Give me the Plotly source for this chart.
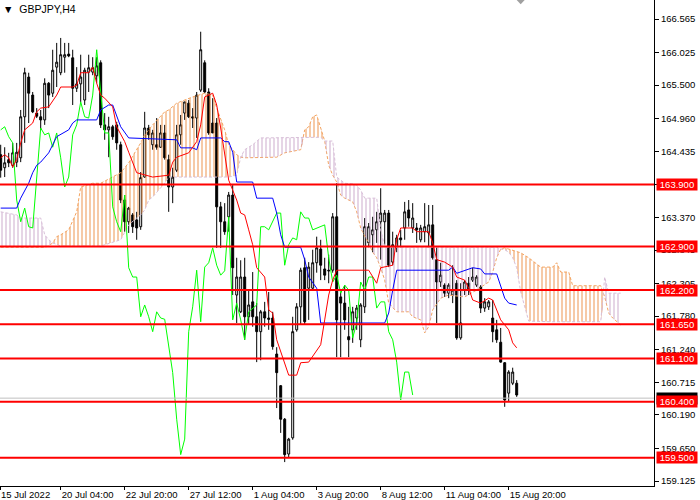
import plotly.graph_objects as go

# GBPJPY H4 candles, index 0 = leftmost bar on screen
opens = [164.38, 164.17, 164.30, 164.21, 164.26, 164.33, 164.99, 165.63, 165.34, 165.05,
         164.99, 164.94, 165.53, 165.37, 165.79, 165.70, 165.95, 166.00, 165.94, 165.45,
         165.52, 165.26, 165.71, 165.71, 165.65, 165.86, 164.86, 164.78, 164.83, 164.86,
         164.54, 163.65, 163.30, 163.41, 163.33, 163.22, 164.02, 164.81, 164.54, 164.54,
         164.50, 164.73, 164.30, 163.86, 164.13, 164.70, 165.05, 165.21, 164.99, 164.97,
         165.42, 165.86, 165.39, 164.89, 164.89, 163.54, 163.30, 163.38, 163.73, 162.12,
         161.85, 162.41, 161.77, 162.01, 161.77, 161.53, 161.85, 161.75, 161.75, 161.17,
         160.66, 160.12, 159.56, 159.82, 161.56, 161.93, 162.56, 162.23, 162.23, 162.64,
         162.86, 162.54, 162.52, 162.52, 163.38, 162.09, 161.99, 161.45, 161.56, 161.75,
         161.40, 161.93, 162.96, 163.09, 163.17, 163.30, 163.30, 163.44, 162.65, 162.89,
         163.04, 163.20, 163.49, 163.20, 163.20, 163.01, 163.14, 163.12, 163.25, 162.69,
         162.33, 162.28, 162.15, 162.12, 162.31, 161.43, 162.20, 162.31, 162.36, 162.28,
         162.25, 161.91, 161.93, 161.75, 161.56, 161.36, 161.03, 160.54, 160.70, 160.70]
highs = [164.54, 164.50, 164.41, 164.57, 164.57, 165.10, 165.78, 165.70, 165.39, 165.13,
         165.10, 165.61, 165.55, 166.07, 166.18, 166.26, 166.18, 166.18, 166.07, 165.79,
         165.99, 165.78, 165.99, 165.95, 165.95, 165.90, 165.05, 164.99, 164.86, 164.91,
         164.59, 163.73, 163.54, 163.44, 163.46, 164.10, 165.07, 164.86, 164.78, 164.97,
         164.86, 164.86, 164.38, 164.17, 164.86, 165.02, 165.23, 165.26, 165.13, 165.39,
         166.36, 165.90, 165.45, 165.29, 164.97, 163.62, 163.60, 163.78, 163.89, 162.72,
         162.68, 162.72, 162.20, 162.49, 161.99, 161.88, 162.01, 162.17, 161.85, 161.28,
         160.67, 160.14, 159.82, 161.77, 161.99, 162.56, 162.72, 162.65, 162.85, 163.06,
         163.01, 162.72, 162.77, 163.44, 163.92, 162.17, 162.28, 161.93, 161.93, 161.96,
         161.99, 163.36, 163.28, 163.38, 163.46, 163.84, 163.49, 163.49, 163.14, 163.09,
         163.17, 163.62, 163.65, 163.60, 163.28, 163.25, 163.60, 163.57, 163.57, 162.89,
         162.64, 162.31, 162.31, 162.60, 162.36, 162.31, 162.36, 162.41, 162.56, 162.44,
         162.28, 162.07, 162.04, 162.04, 161.72, 161.59, 161.04, 160.91, 160.95, 160.75]
lows = [164.01, 164.02, 164.18, 164.17, 164.18, 164.26, 164.57, 164.89, 165.05, 164.97,
        164.78, 164.86, 165.13, 165.31, 165.47, 165.66, 165.70, 165.95, 165.18, 165.39,
        165.23, 165.18, 165.39, 165.66, 165.53, 164.81, 164.62, 164.34, 164.62, 164.46,
        163.60, 163.14, 163.12, 163.12, 163.01, 163.17, 164.01, 164.62, 164.46, 164.46,
        164.49, 164.30, 163.46, 163.60, 164.10, 164.54, 164.94, 164.97, 164.81, 164.65,
        165.39, 165.37, 164.70, 164.75, 162.88, 162.88, 163.09, 163.14, 162.12, 161.67,
        161.83, 161.40, 161.64, 161.61, 161.04, 161.07, 161.61, 161.56, 161.24, 160.30,
        159.90, 159.43, 159.51, 159.79, 161.53, 161.64, 161.64, 161.72, 162.20, 162.48,
        162.36, 162.36, 162.31, 162.48, 161.12, 161.12, 161.56, 161.12, 161.35, 161.56,
        161.28, 161.83, 162.89, 162.81, 162.96, 162.69, 162.93, 162.57, 162.60, 162.81,
        162.89, 163.01, 163.22, 163.12, 162.96, 162.97, 162.97, 162.89, 162.69, 161.67,
        162.25, 162.09, 162.07, 161.99, 161.40, 161.40, 162.12, 162.12, 162.33, 162.25,
        161.83, 161.85, 161.88, 161.36, 161.35, 161.03, 160.32, 160.40, 160.67, 160.48]
closes = [164.13, 164.25, 164.25, 164.41, 164.42, 164.99, 165.70, 165.37, 165.07, 165.00,
          164.94, 165.53, 165.34, 165.74, 165.87, 165.99, 165.99, 165.97, 165.45, 165.52,
          165.63, 165.74, 165.78, 165.78, 165.81, 164.86, 164.78, 164.83, 164.67, 164.57,
          163.65, 163.30, 163.52, 163.22, 163.20, 164.01, 164.81, 164.70, 164.73, 164.50,
          164.73, 164.33, 163.86, 164.02, 164.70, 164.86, 165.23, 164.99, 164.97, 165.34,
          166.07, 165.39, 164.73, 164.73, 163.54, 163.30, 163.14, 163.73, 162.56, 162.41,
          162.41, 161.77, 161.96, 161.77, 161.53, 161.85, 161.75, 161.73, 161.29, 160.87,
          160.12, 159.55, 159.80, 161.53, 161.93, 162.52, 161.69, 162.57, 162.64, 162.88,
          162.60, 162.44, 162.51, 163.38, 161.72, 161.99, 161.72, 161.40, 161.85, 161.91,
          161.96, 163.22, 163.22, 163.17, 163.30, 163.44, 163.44, 162.60, 162.93, 163.04,
          163.01, 163.46, 163.36, 163.36, 163.17, 163.20, 163.22, 163.25, 162.72, 162.33,
          162.44, 162.15, 162.28, 162.20, 161.43, 161.67, 162.33, 162.20, 162.41, 162.41,
          161.91, 162.01, 162.01, 161.53, 161.40, 161.04, 160.43, 160.88, 160.88, 160.51]
bars = list(range(len(closes)))

# Ichimoku lines (bar index, price)
tenkan_idx = [0, 1, 2, 3, 4, 5, 6, 8, 9, 10, 12, 14, 15, 18, 19, 20, 22, 23, 24, 25, 26, 28, 29,
              31, 32, 33, 34, 38, 42, 43, 44, 47, 49, 50, 51, 53, 54, 55, 56, 57, 58, 59, 60, 61,
              62, 63, 64, 65, 66, 67, 68, 69, 70, 71, 72, 74, 75, 77, 79, 80, 81, 82, 83, 84, 92,
              94, 95, 98, 99, 100, 103, 104, 107, 108, 109, 111, 113, 114, 116, 117, 118, 120,
              122, 123, 125, 127, 128, 129]
tenkan = [164.33, 164.38, 164.33, 164.18, 164.30, 164.57, 164.78, 164.89, 165.07, 165.13, 165.15,
          165.34, 165.47, 165.47, 165.50, 165.70, 165.70, 165.79, 165.53, 165.34, 165.29, 165.15,
          164.83, 164.59, 164.42, 164.26, 164.09, 164.02, 164.05, 164.26, 164.34, 164.41, 164.59,
          164.86, 165.31, 165.37, 165.18, 164.81, 164.38, 163.97, 163.81, 163.65, 163.44, 163.41,
          163.17, 162.93, 162.56, 162.48, 162.41, 161.88, 161.83, 161.40, 161.20, 161.03, 160.83,
          160.83, 161.03, 161.04, 161.24, 161.32, 161.72, 162.12, 162.36, 162.52, 162.52, 162.31,
          162.56, 162.60, 163.01, 163.20, 163.20, 163.14, 163.14, 162.96, 162.69, 162.65, 162.57,
          162.41, 162.36, 162.23, 162.04, 161.99, 162.07, 162.04, 161.72, 161.56, 161.35, 161.27]

kijun_idx = [0, 4, 5, 7, 8, 9, 10, 12, 13, 14, 17, 18, 19, 24, 25, 27, 28, 29, 30, 32, 44, 45, 48,
             49, 50, 55, 56, 57, 58, 59, 63, 64, 68, 69, 70, 71, 75, 76, 77, 79, 80, 96, 97, 98,
             99, 112, 113, 114, 118, 120, 121, 124, 126, 127, 129]
kijun = [163.52, 163.52, 163.68, 163.92, 164.09, 164.21, 164.26, 164.41, 164.54, 164.67, 164.78,
         164.89, 164.94, 164.94, 165.10, 165.18, 165.18, 164.99, 164.83, 164.65, 164.62, 164.49,
         164.49, 164.46, 164.65, 164.65, 164.59, 164.59, 164.42, 163.94, 163.94, 163.68, 163.68,
         163.44, 163.09, 162.89, 162.89, 162.69, 162.41, 162.23, 161.67, 161.67, 161.83, 162.20,
         162.52, 162.52, 162.57, 162.47, 162.56, 162.54, 162.46, 162.46, 162.07, 161.99, 161.96]

# Kumo (senkou spans, already shifted 26 bars ahead)
cloud_idx = [0, 4, 5, 10, 11, 12, 13, 14, 15, 17, 19, 20, 23, 25, 30, 32, 34, 35, 36, 37, 38, 40,
             41, 42, 44, 48, 51, 53, 54, 56, 57, 59, 60, 61, 63, 65, 69, 71, 74, 75, 76, 77, 78,
             79, 80, 81, 82, 83, 84, 85, 86, 88, 89, 90, 91, 92, 93, 94, 95, 96, 97, 99, 102,
             103, 105, 106, 107, 108, 110, 112, 116, 119, 122, 123, 124, 125, 126, 127, 128, 129,
             130, 132, 135, 138, 139, 140, 142, 143, 150, 151, 152, 153, 155]
span_a = [162.89, 162.89, 162.89, 162.89, 162.89, 162.91, 162.96, 163.06, 163.09, 163.17, 163.46,
          163.86, 163.92, 163.92, 164.09, 164.25, 164.46, 164.57, 164.70, 164.78, 164.86, 165.00,
          165.07, 165.10, 165.21, 165.31, 165.37, 165.34, 165.13, 164.78, 164.54, 164.38, 164.34,
          164.33, 164.33, 164.33, 164.34, 164.41, 164.44, 164.46, 164.78, 164.83, 164.99, 165.02,
          164.81, 164.60, 164.21, 164.05, 163.94, 163.73, 163.68, 163.62, 163.46, 163.20, 163.07,
          162.96, 162.81, 162.72, 162.56, 162.36, 161.99, 161.85, 161.85, 161.77, 161.72, 161.51,
          161.61, 161.88, 162.07, 162.12, 162.09, 162.20, 162.33, 162.49, 162.72, 162.86, 162.88,
          162.86, 162.85, 162.83, 162.80, 162.72, 162.57, 162.57, 162.64, 162.49, 162.49, 162.27,
          162.27, 162.09, 161.83, 161.75, 161.64]
span_b = [163.46, 163.41, 163.36, 163.36, 163.09, 163.01, 162.96, 162.93, 162.91, 162.91, 162.91,
          162.91, 162.91, 162.91, 163.01, 163.25, 163.36, 163.41, 163.49, 163.65, 163.70, 163.84,
          163.92, 164.02, 164.02, 164.02, 164.02, 164.02, 164.02, 164.02, 164.02, 164.05, 164.34,
          164.46, 164.54, 164.65, 164.65, 164.65, 164.65, 164.65, 164.66, 164.66, 164.66, 164.66,
          164.66, 164.60, 164.60, 164.60, 164.02, 163.97, 163.92, 163.91, 163.89, 163.81, 163.68,
          163.68, 163.68, 163.68, 163.17, 162.89, 162.89, 162.89, 162.89, 162.89, 162.89, 162.89,
          162.89, 162.89, 162.89, 162.89, 162.89, 162.89, 162.89, 162.89, 162.89, 162.86, 162.85,
          162.81, 162.72, 162.56, 162.17, 161.70, 161.69, 161.69, 161.69, 161.69, 161.69, 161.69,
          161.69, 162.41, 162.15, 162.15, 162.15]

levels = [163.900, 162.900, 162.200, 161.650, 161.100, 160.400, 159.500]
bid = 160.46

price_ticks = [166.565, 166.025, 165.500, 164.960, 164.435, 163.905, 163.370, 162.845, 162.305,
               161.780, 161.240, 160.715, 160.190, 159.650, 159.125]
time_ticks = [15, 31, 47, 63, 79, 95, 111, 127]
time_labels = ["20 Jul 04:00", "22 Jul 20:00", "27 Jul 12:00", "1 Aug 04:00", "3 Aug 20:00",
               "8 Aug 12:00", "11 Aug 04:00", "15 Aug 20:00"]
first_label = "15 Jul 2022"

FONT = "Liberation Sans"
ORANGE = "#F4A460"
THISTLE = "#D8BFD8"
# hatch strokes a little stronger so the thin lines read like MT4's dotted histogram
ORANGE_HATCH = "#EE9650"
THISTLE_HATCH = "#CDACCD"

x_lo, x_hi = -0.175, 163.325
y_lo, y_hi = 159.045, 166.871

fig = go.Figure()

fig.add_trace(go.Candlestick(
    x=bars, open=opens, high=highs, low=lows, close=closes,
    increasing=dict(line=dict(color="black", width=1), fillcolor="white"),
    decreasing=dict(line=dict(color="black", width=1), fillcolor="black"),
    whiskerwidth=0, hoverinfo="skip"))

# kumo: fill between the lower span and each span with vertical hatching
lower = [min(a, b) for a, b in zip(span_a, span_b)]
for span, col, hatch in [(span_a, ORANGE, ORANGE_HATCH), (span_b, THISTLE, THISTLE_HATCH)]:
    fig.add_trace(go.Scatter(x=cloud_idx, y=lower, mode="lines",
                             line=dict(width=0, color="rgba(0,0,0,0)"), hoverinfo="skip"))
    fig.add_trace(go.Scatter(
        x=cloud_idx, y=span, mode="lines", fill="tonexty", fillcolor="rgba(0,0,0,0)",
        fillpattern=dict(shape="|", fgcolor=hatch, bgcolor="rgba(0,0,0,0)", size=4, solidity=0.5),
        line=dict(color=col, width=1, dash="3px,2px"), hoverinfo="skip"))

fig.add_trace(go.Scatter(x=bars[:len(bars) - 26], y=closes[26:], mode="lines",
                         line=dict(color="#00FF00", width=1), hoverinfo="skip"))
fig.add_trace(go.Scatter(x=kijun_idx, y=kijun, mode="lines",
                         line=dict(color="#0000FF", width=1), hoverinfo="skip"))
fig.add_trace(go.Scatter(x=tenkan_idx, y=tenkan, mode="lines",
                         line=dict(color="#FF0000", width=1), hoverinfo="skip"))

# bid line + horizontal levels
fig.add_shape(type="line", xref="paper", x0=0, x1=1, y0=bid, y1=bid,
              line=dict(color="#C0C0C0", width=1), layer="above")
fig.add_annotation(x=1, xref="paper", xanchor="left", xshift=2, y=bid, yref="y",
                   text=f"{bid:.3f}", showarrow=False, bgcolor="black", width=40,
                   borderpad=0, font=dict(family=FONT, size=9.5, color="white"))
for lv in levels:
    fig.add_shape(type="line", xref="paper", x0=0, x1=1, y0=lv, y1=lv,
                  line=dict(color="#FF0000", width=2), layer="above")
    fig.add_annotation(x=1, xref="paper", xanchor="left", xshift=2, y=lv, yref="y",
                       text=f"{lv:.3f}", showarrow=False, bgcolor="#FF0000", width=40,
                       borderpad=0, font=dict(family=FONT, size=9.5, color="white"))

# chart title & shift marker
fig.add_annotation(x=0, y=1, xref="paper", yref="paper", xanchor="left", yanchor="top",
                   xshift=1, yshift=-1, showarrow=False,
                   text="▼  GBPJPY,H4", font=dict(family=FONT, size=10.5, color="black"))
fig.add_shape(type="path", xref="x", yref="paper",
              path="M 129,1 L 131,1 L 130,0.991 Z",
              fillcolor="#A0A0A0", line=dict(width=0), layer="above")

fig.update_layout(
    width=700, height=500,
    margin=dict(l=0, r=46, t=0, b=14, autoexpand=False),
    paper_bgcolor="white", plot_bgcolor="white",
    showlegend=False, hovermode=False,
    xaxis=dict(range=[x_lo, x_hi], showgrid=False, zeroline=False, automargin=False,
               showline=True, linecolor="black", linewidth=1,
               ticks="outside", ticklen=3, tickcolor="black", tickangle=0,
               tickvals=[x_lo + 0.01] + time_ticks, ticktext=[first_label] + time_labels,
               ticklabelposition="outside right",
               tickfont=dict(family=FONT, size=9.5, color="black"),
               rangeslider=dict(visible=False)),
    yaxis=dict(range=[y_lo, y_hi], side="right", showgrid=False, zeroline=False,
               automargin=False,
               showline=True, linecolor="black", linewidth=1,
               ticks="outside", ticklen=4, tickcolor="black",
               tickvals=price_ticks, ticktext=[f"{v:.3f}" for v in price_ticks],
               tickfont=dict(family=FONT, size=9.5, color="black")),
)

# page body margin would offset the chart; drop it
fig.write_html("out.html", config={"displayModeBar": False},
               post_script="document.body.style.margin='0px';")
